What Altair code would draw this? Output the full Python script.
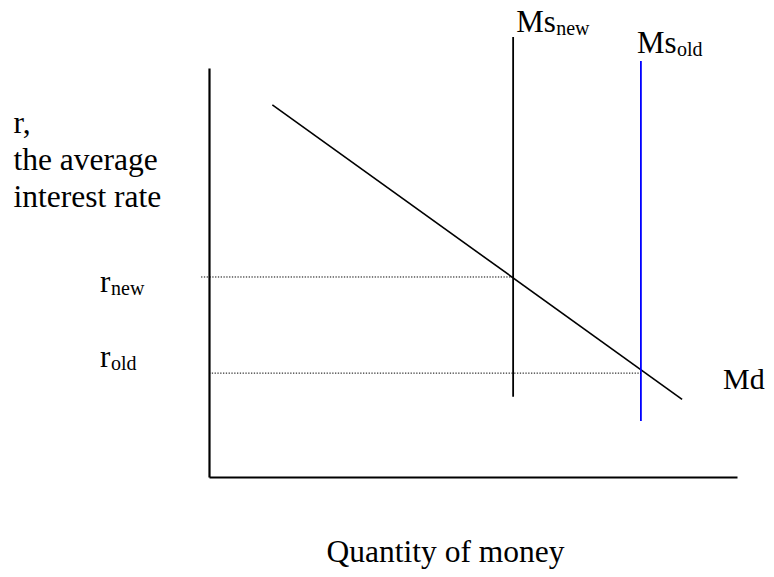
import altair as alt
import pandas as pd

# ---- data (conceptual units: quantity 0..100, rate 0..100) ----
md_q = [12.0, 89.6]
md_r = [91.0, 19.0]

ms_label = ["new", "old"]
ms_q = [57.6, 81.8]
ms_top = [107.6, 101.7]
ms_bottom = [19.6, 13.7]

r_label = ["new", "old"]
r_vals = [48.9, 25.4]
r_from = [-1.5, 0.0]
r_to = [57.6, 81.8]

y_title = ["r,", "the average", "interest rate"]
x_title = "Quantity of money"

FONT = "Liberation Serif"
BIG = 31
TITLE = 31.5
SUB = 20

xs = alt.Scale(domain=[0, 100], nice=False, zero=False)
ys = alt.Scale(domain=[0, 100], nice=False, zero=False)

md_df = pd.DataFrame({"q": md_q, "r": md_r})
ms_df = pd.DataFrame({"name": ms_label, "q": ms_q, "top": ms_top,
                      "bottom": ms_bottom, "color": ["#000000", "#0000ff"]})
r_df = pd.DataFrame({"name": r_label, "r": r_vals, "q0": r_from, "q1": r_to})

x_axis = alt.Axis(title=x_title, domain=True, ticks=False, labels=False, grid=False,
                  domainColor="black", domainWidth=2.2, titleFont=FONT, titleFontSize=TITLE,
                  titleFontWeight="normal", titleColor="black", titlePadding=59,
                  titleX=236, titleAlign="center")
y_axis = alt.Axis(title=y_title, domain=True, ticks=False, labels=False, grid=False,
                  domainColor="black", domainWidth=2.2, titleFont=FONT, titleFontSize=TITLE,
                  titleFontWeight="normal", titleColor="black", titleAngle=0,
                  titleAlign="left", titleBaseline="alphabetic", titleX=-196, titleY=64,
                  titleLineHeight=37)

md_line = alt.Chart(md_df).mark_line(color="black", strokeWidth=1.6).encode(
    x=alt.X("q:Q", scale=xs, axis=x_axis),
    y=alt.Y("r:Q", scale=ys, axis=y_axis),
)

ms_rules = alt.Chart(ms_df).mark_rule(strokeWidth=1.8).encode(
    x=alt.X("q:Q", scale=xs, axis=None),
    y=alt.Y("top:Q", scale=ys, axis=None),
    y2="bottom:Q",
    color=alt.Color("color:N", scale=None),
)

r_rules = alt.Chart(r_df).mark_rule(strokeWidth=1, strokeDash=[1.3, 1.5], color="black").encode(
    x=alt.X("q0:Q", scale=xs, axis=None),
    x2="q1:Q",
    y=alt.Y("r:Q", scale=ys, axis=None),
)

layers = [md_line, ms_rules, r_rules]

def txt(df, text, size, dx, dy, xenc, yenc):
    return alt.Chart(df).mark_text(font=FONT, fontSize=size, align="left",
                                   baseline="alphabetic", color="black",
                                   dx=dx, dy=dy, text=text).encode(x=xenc, y=yenc)

# Ms labels
ms_offsets = {"new": (3, -5), "old": (-4, -8)}
for name, (dx, dy) in ms_offsets.items():
    d = ms_df[ms_df["name"] == name]
    xe = alt.X("q:Q", scale=xs, axis=None)
    ye = alt.Y("top:Q", scale=ys, axis=None)
    layers.append(txt(d, "Ms", BIG, dx, dy, xe, ye))
    layers.append(txt(d, name, SUB, dx + 40, dy + 3, xe, ye))

# r labels
r_offsets = {"new": 15, "old": -6}
for name, dy in r_offsets.items():
    d = r_df[r_df["name"] == name]
    ye = alt.Y("r:Q", scale=ys, axis=None)
    layers.append(txt(d, "r", BIG, 0, dy, alt.value(-109), ye))
    layers.append(txt(d, name, SUB, 11, dy + 3, alt.value(-109), ye))

# Md label at the end of the demand curve
md_end = md_df.tail(1)
layers.append(txt(md_end, "Md", 30, 41, -10,
                  alt.X("q:Q", scale=xs, axis=None), alt.Y("r:Q", scale=ys, axis=None)))

chart = alt.layer(*layers).resolve_axis(x="independent", y="independent").properties(
    width=528, height=409,
    padding={"left": 201, "top": 60, "right": 29, "bottom": 92},
    autosize=alt.AutoSizeParams(type="none"),
    background="white",
).configure_view(stroke=None)

chart.save("out.html", embed_options={"renderer": "svg", "actions": False})
